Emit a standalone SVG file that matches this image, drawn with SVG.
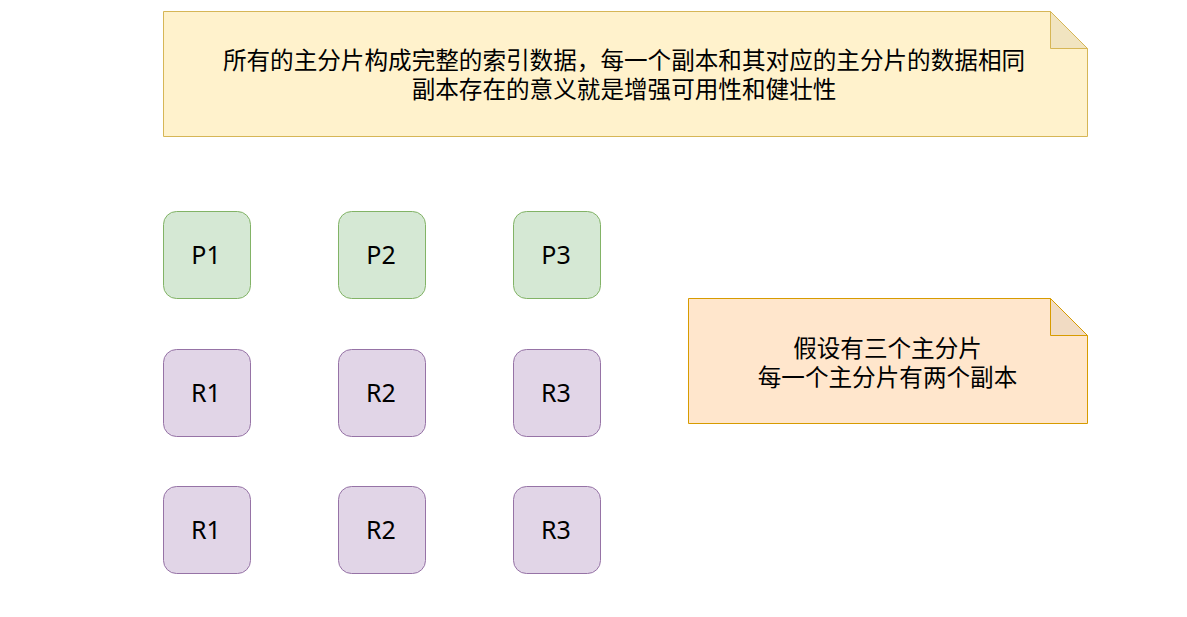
<svg xmlns="http://www.w3.org/2000/svg" width="1187" height="617" viewBox="0 0 1187 617">
<style>
.t{font-family:"Noto Sans CJK SC","Noto Sans",sans-serif;font-size:23.6px;fill:#000;text-anchor:middle;dominant-baseline:central}
.l{font-family:"Noto Sans","Noto Sans CJK SC",sans-serif;font-size:25px;fill:#000;text-anchor:middle;dominant-baseline:central}
.p{fill:#d5e8d4;stroke:#82b366;stroke-width:1}
.r{fill:#e1d5e7;stroke:#9673a6;stroke-width:1}
</style>
<rect width="1187" height="617" fill="#fff"/>
<g id="note-top">
<path d="M163.5 11.5 H1050.5 L1087.5 48.5 V136.5 H163.5 Z" fill="#fff2cc" stroke="#d6b656"/>
<path d="M1050.5 11.5 V48.5 H1087.5 Z" fill="#f1e4c0" stroke="#d6b656"/>
<text class="t" x="624" y="58.5">所有的主分片构成完整的索引数据，每一个副本和其对应的主分片的数据相同</text>
<text class="t" x="624" y="88">副本存在的意义就是增强可用性和健壮性</text>
</g>
<g id="note-right">
<path d="M688.5 298.5 H1050.5 L1087.5 335.5 V423.5 H688.5 Z" fill="#ffe6cc" stroke="#d79b00"/>
<path d="M1050.5 298.5 V335.5 H1087.5 Z" fill="#f1dbc3" stroke="#d79b00"/>
<text class="t" x="887.5" y="346.5">假设有三个主分片</text>
<text class="t" x="887.5" y="376">每一个主分片有两个副本</text>
</g>
<g id="P1"><rect class="p" x="163.5" y="211.5" width="87" height="87" rx="13"/><text class="l" x="206" y="254">P1</text></g>
<g id="P2"><rect class="p" x="338.5" y="211.5" width="87" height="87" rx="13"/><text class="l" x="381" y="254">P2</text></g>
<g id="P3"><rect class="p" x="513.5" y="211.5" width="87" height="87" rx="13"/><text class="l" x="556" y="254">P3</text></g>
<g id="R1a"><rect class="r" x="163.5" y="349.5" width="87" height="87" rx="13"/><text class="l" x="206" y="392">R1</text></g>
<g id="R2a"><rect class="r" x="338.5" y="349.5" width="87" height="87" rx="13"/><text class="l" x="381" y="392">R2</text></g>
<g id="R3a"><rect class="r" x="513.5" y="349.5" width="87" height="87" rx="13"/><text class="l" x="556" y="392">R3</text></g>
<g id="R1b"><rect class="r" x="163.5" y="486.5" width="87" height="87" rx="13"/><text class="l" x="206" y="529">R1</text></g>
<g id="R2b"><rect class="r" x="338.5" y="486.5" width="87" height="87" rx="13"/><text class="l" x="381" y="529">R2</text></g>
<g id="R3b"><rect class="r" x="513.5" y="486.5" width="87" height="87" rx="13"/><text class="l" x="556" y="529">R3</text></g>
<g id="connectors"></g>
</svg>
